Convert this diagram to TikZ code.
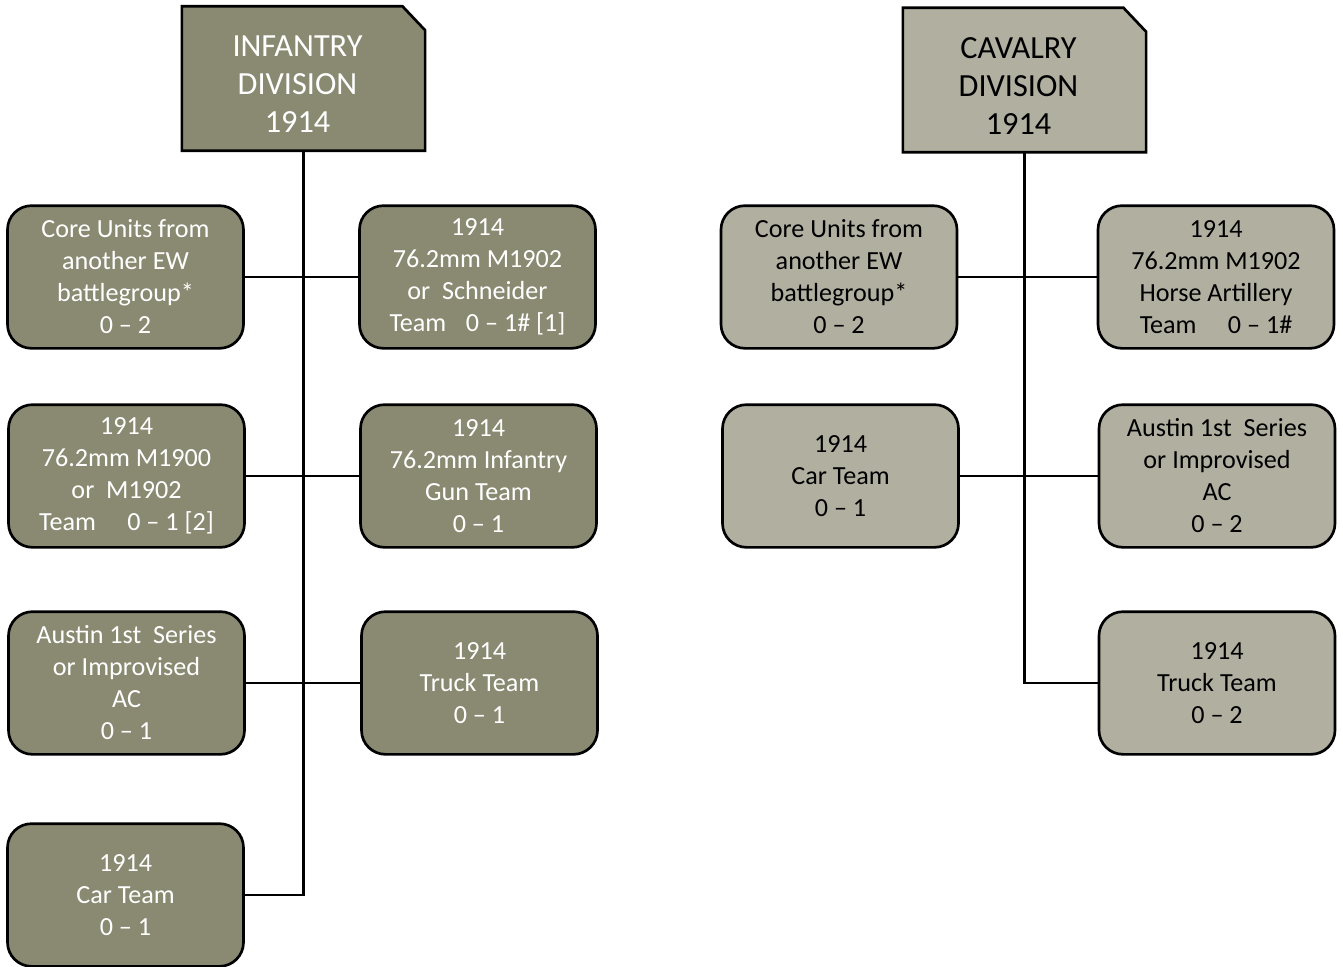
\documentclass[tikz,border=0pt]{standalone}
\usepackage{fontspec}
\setmainfont{Carlito}
\usetikzlibrary{backgrounds}

\definecolor{infill}{RGB}{138,138,114}
\definecolor{cavfill}{RGB}{176,175,160}

\begin{document}
\begin{tikzpicture}[x=0.75pt,y=-0.75pt,
  unitbox/.style={rounded corners=18pt, draw=black, line width=2pt,
    minimum width=177pt, minimum height=107pt, align=center,
    font=\fontsize{19.6}{24}\selectfont, inner sep=0pt},
  infunit/.style={unitbox, fill=infill, text=white},
  cavunit/.style={unitbox, fill=cavfill, text=black},
  hdrbox/.style={rectangle, minimum width=182pt, minimum height=108pt, inner sep=0pt},
  hdrtext/.style={align=center, font=\fontsize{24.2}{28.5}\selectfont, inner sep=0pt},
  hdrshape/.style={draw=black, line width=2pt, line join=miter},
  link/.style={draw=black, line width=1.6pt}
]
\useasboundingbox (0,0) rectangle (1343,967);

% ---------------- Infantry division ----------------
\node[hdrbox, label={[hdrtext, text=white, xshift=-4.5pt, yshift=-4.5pt]center:INFANTRY\\DIVISION\\1914}] (inf) at (303.5,78.5) {};

\node[infunit] (i1) at (125.5,277) {Core Units from\\another EW\\battlegroup*\\0 -- 2};
\node[infunit] (j1) at (477.5,277) {1914\\76.2mm M1902\\or\ \ Schneider\\Team\hspace{0.75em}0 -- 1\# [1]};
\node[infunit] (i2) at (126.5,476) {1914\\76.2mm M1900\\or\ \ M1902\\Team\hspace{1.2em}0 -- 1 [2]};
\node[infunit] (j2) at (478.5,476) {1914\\76.2mm Infantry\\Gun Team\\0 -- 1};
\node[infunit] (i3) at (126.5,683) {Austin 1st\ \ Series\\or Improvised\\AC\\0 -- 1};
\node[infunit] (j3) at (479.5,683) {1914\\Truck Team\\0 -- 1};
\node[infunit] (i4) at (125.5,895) {1914\\Car Team\\0 -- 1};

% ---------------- Cavalry division ----------------
\node[hdrbox, label={[hdrtext, text=black, xshift=-4.5pt, yshift=-4.5pt]center:CAVALRY\\DIVISION\\1914}] (cav) at (1024.5,80) {};

\node[cavunit] (c1) at (839,277) {Core Units from\\another EW\\battlegroup*\\0 -- 2};
\node[cavunit] (k1) at (1216,277) {1914\\76.2mm M1902\\Horse Artillery\\Team\hspace{1.2em}0 -- 1\#};
\node[cavunit] (c2) at (840.5,476) {1914\\Car Team\\0 -- 1};
\node[cavunit] (k2) at (1217,476) {Austin 1st\ \ Series\\or Improvised\\AC\\0 -- 2};
\node[cavunit] (k3) at (1217,683) {1914\\Truck Team\\0 -- 2};

\begin{scope}[on background layer]
  % headers with a clipped top-right corner
  \path[hdrshape, fill=infill] (inf.south west) -- (inf.north west)
    -- ([xshift=-17pt]inf.north east) -- ([yshift=-18pt]inf.north east)
    -- (inf.south east) -- cycle;
  \path[hdrshape, fill=cavfill] (cav.south west) -- (cav.north west)
    -- ([xshift=-17pt]cav.north east) -- ([yshift=-18pt]cav.north east)
    -- (cav.south east) -- cycle;

  % infantry links
  \path[link] (inf.south) -- (inf.south |- i4.east) -- (i4.east);
  \path[link] (i1.east) -- (j1.west);
  \path[link] (i2.east) -- (j2.west);
  \path[link] (i3.east) -- (j3.west);

  % cavalry links
  \path[link] (cav.south) -- (cav.south |- k3.west) -- (k3.west);
  \path[link] (c1.east) -- (k1.west);
  \path[link] (c2.east) -- (k2.west);
\end{scope}
\end{tikzpicture}
\end{document}
